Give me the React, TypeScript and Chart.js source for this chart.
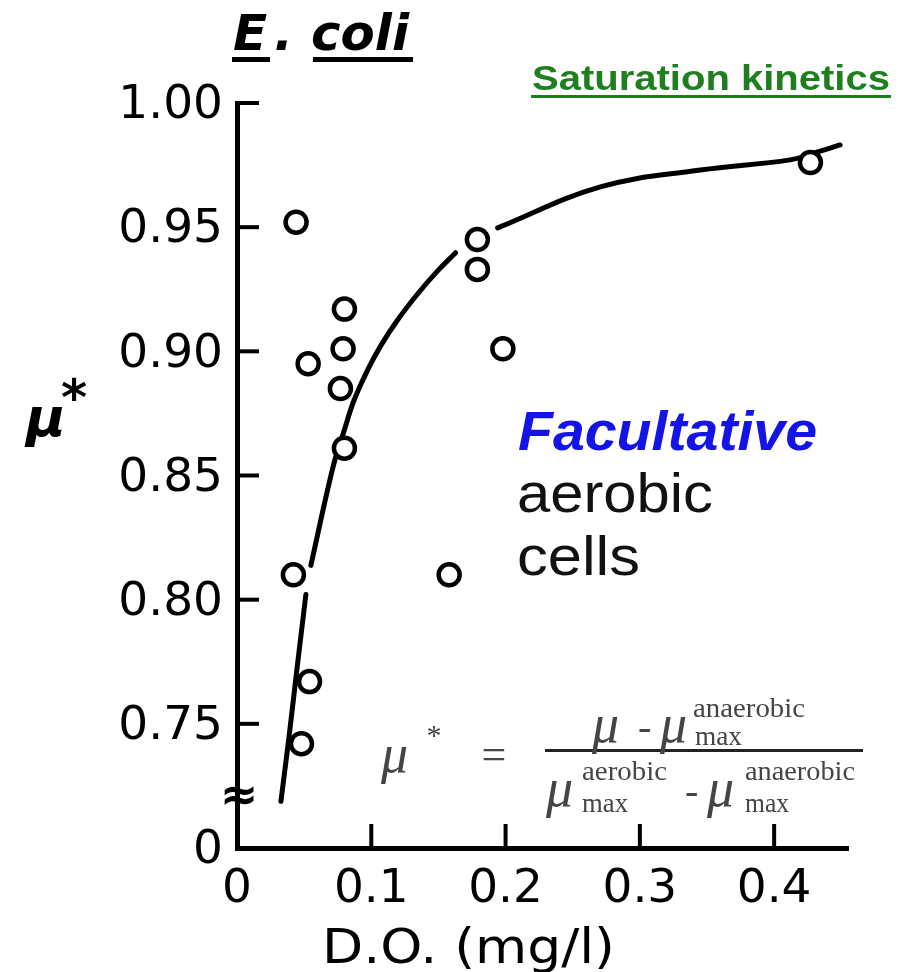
import React, { useEffect, useRef } from 'react';
import { Chart, registerables } from 'chart.js';

Chart.register(...registerables);

// ---- data ----
const doValues = [0.044, 0.053, 0.080, 0.079, 0.077, 0.080, 0.179, 0.179, 0.198, 0.158, 0.042, 0.054, 0.048, 0.427];
const muValues = [0.952, 0.895, 0.917, 0.901, 0.885, 0.861, 0.945, 0.933, 0.901, 0.810, 0.810, 0.767, 0.742, 0.976];

// fitted saturation curve (null = gap in the drawn line)
const fitDO = [0.0327, 0.0387, 0.0446, 0.0513, 0.053, 0.0550, 0.0714, 0.0796, 0.0870, 0.0974, 0.1071, 0.1197, 0.1346, 0.1494, 0.1628, 0.178, 0.1941, 0.2706, 0.3450, 0.4119, 0.4305, 0.4491];
const fitMu = [0.7188, 0.7446, 0.7719, 0.8021, null, 0.8138, 0.8532, 0.8677, 0.8801, 0.8926, 0.9023, 0.9127, 0.9232, 0.9324, 0.9397, null, 0.9497, 0.9662, 0.9730, 0.9771, 0.9800, 0.9831];

const xTickValues = [0, 0.1, 0.2, 0.3, 0.4];
const xTickLabels = ['0', '0.1', '0.2', '0.3', '0.4'];
const yTickValues = [0.70, 0.75, 0.80, 0.85, 0.90, 0.95, 1.00];
const yTickLabels = ['0', '0.75', '0.80', '0.85', '0.90', '0.95', '1.00'];

const X_MIN = 0;
const X_MAX = 0.455;
const Y_MIN = 0.70;
const Y_MAX = 1.00;
const BREAK_AT = 0.72;

function fitText(ctx: CanvasRenderingContext2D, text: string, x: number, y: number, width: number | null, font: string, color: string) {
  ctx.save();
  ctx.font = font;
  ctx.fillStyle = color;
  ctx.textAlign = 'left';
  ctx.textBaseline = 'alphabetic';
  const w = ctx.measureText(text).width;
  ctx.translate(x, y);
  if (width) ctx.scale(width / w, 1);
  ctx.fillText(text, 0, 0);
  ctx.restore();
}

const annotations = {
  id: 'annotations',
  afterDraw(chart: any) {
    const { ctx, scales, chartArea } = chart;
    const xs = scales.x;
    const ys = scales.y;
    ctx.save();
    // inward tick marks
    ctx.strokeStyle = '#000';
    ctx.lineWidth = 4;
    yTickValues.forEach((v) => {
      if (v <= Y_MIN) return;
      const py = ys.getPixelForValue(v);
      ctx.beginPath();
      ctx.moveTo(chartArea.left, py);
      ctx.lineTo(chartArea.left + 22, py);
      ctx.stroke();
    });
    xTickValues.forEach((v) => {
      if (v <= X_MIN) return;
      const px = xs.getPixelForValue(v);
      ctx.beginPath();
      ctx.moveTo(px, chartArea.bottom);
      ctx.lineTo(px, chartArea.bottom - 24);
      ctx.stroke();
    });
    // axis break mark
    const by = ys.getPixelForValue(BREAK_AT);
    ctx.font = 'bold 46px "DejaVu Sans"';
    ctx.fillStyle = '#000';
    ctx.textAlign = 'center';
    ctx.textBaseline = 'middle';
    ctx.fillText('\u2248', chartArea.left + 2, by);

    // title "E. coli"
    const tf = 'italic bold 50px "DejaVu Sans"';
    fitText(ctx, 'E', 233, 50, null, tf, '#000');
    fitText(ctx, '.', 274, 50, null, tf, '#000');
    fitText(ctx, 'coli', 311, 50, 98, tf, '#000');
    ctx.fillStyle = '#000';
    ctx.fillRect(232, 57, 38, 5);
    ctx.fillRect(313, 57, 100, 5);

    // Saturation kinetics
    fitText(ctx, 'Saturation kinetics', 532, 90, 358, 'bold 35px "Liberation Sans"', '#1f7f1f');
    ctx.fillStyle = '#1f7f1f';
    ctx.fillRect(531, 95, 360, 3);

    // y axis label mu*
    fitText(ctx, '\u03bc', 26, 436, null, 'italic bold 54px "DejaVu Sans"', '#000');
    ctx.font = 'bold 50px "DejaVu Sans"';
    ctx.fillStyle = '#000';
    ctx.textAlign = 'center';
    ctx.textBaseline = 'middle';
    ctx.fillText('*', 74, 402);

    // x axis title
    fitText(ctx, 'D.O. (mg/l)', 322, 963, 293, '48px "DejaVu Sans"', '#000');

    // annotation text
    fitText(ctx, 'Facultative', 518, 450, 299, 'italic bold 56px "Liberation Sans"', '#1414e6');
    fitText(ctx, 'aerobic', 517, 512, 196, '56px "Liberation Sans"', '#111');
    fitText(ctx, 'cells', 517, 575, 123, '56px "Liberation Sans"', '#111');

    // formula
    const g = '#454545';
    const mu = 'italic 54px "Liberation Serif"';
    const sup = '28px "Liberation Serif"';
    fitText(ctx, '\u03bc', 381, 772, null, mu, g);
    ctx.font = '30px "Liberation Serif"';
    ctx.fillStyle = g;
    ctx.textAlign = 'center';
    ctx.textBaseline = 'middle';
    ctx.fillText('*', 434, 737);
    ctx.font = '44px "Liberation Serif"';
    ctx.fillText('=', 494, 757);
    ctx.fillStyle = '#222';
    ctx.fillRect(545, 749, 318, 3);
    // numerator
    fitText(ctx, '\u03bc', 592, 742, null, mu, g);
    fitText(ctx, '-', 638, 740, null, '40px "Liberation Serif"', g);
    fitText(ctx, '\u03bc', 660, 742, null, mu, g);
    fitText(ctx, 'anaerobic', 693, 717, 112, sup, g);
    fitText(ctx, 'max', 695, 745, 47, sup, g);
    // denominator
    fitText(ctx, '\u03bc', 546, 806, null, mu, g);
    fitText(ctx, 'aerobic', 582, 780, 85, sup, g);
    fitText(ctx, 'max', 582, 812, 46, sup, g);
    fitText(ctx, '-', 685, 804, null, '40px "Liberation Serif"', g);
    fitText(ctx, '\u03bc', 707, 806, null, mu, g);
    fitText(ctx, 'anaerobic', 745, 780, 110, sup, g);
    fitText(ctx, 'max', 745, 812, 44, sup, g);
    ctx.restore();
  },
};

export default function App() {
  const ref = useRef<HTMLCanvasElement | null>(null);

  useEffect(() => {
    if (!ref.current) return;
    const points = doValues.map((x, i) => ({ x, y: muValues[i] }));
    const curve = fitDO.map((x, i) => ({ x, y: fitMu[i] }));
    const tickFont = { family: 'DejaVu Sans', size: 47 };
    const chart = new Chart(ref.current, {
      type: 'scatter',
      data: {
        datasets: [
          {
            label: 'data',
            data: points,
            order: 0,
            showLine: false,
            pointRadius: 10.5,
            pointHoverRadius: 10.5,
            pointBorderWidth: 4.5,
            pointBackgroundColor: '#fff',
            pointBorderColor: '#000',
          },
          {
            type: 'line',
            label: 'fit',
            data: curve as any,
            order: 1,
            showLine: true,
            spanGaps: false,
            borderColor: '#000',
            borderWidth: 5,
            pointRadius: 0,
            fill: false,
            tension: 0.4,
            borderCapStyle: 'round',
          },
        ],
      },
      options: {
        responsive: true,
        maintainAspectRatio: false,
        animation: false,
        layout: { padding: { left: 0, top: 103, right: 54, bottom: 0 } },
        plugins: {
          legend: { display: false },
          tooltip: { enabled: false },
          title: { display: false },
        },
        scales: {
          x: {
            type: 'linear',
            min: X_MIN,
            max: X_MAX,
            afterBuildTicks: (s: any) => {
              s.ticks = xTickValues.map((v) => ({ value: v }));
            },
            afterFit: (s: any) => {
              s.height = 124;
            },
            grid: { display: false, drawTicks: false },
            border: { display: true, color: '#000', width: 5 },
            ticks: {
              font: tickFont,
              color: '#000',
              padding: 14,
              maxRotation: 0,
              autoSkip: false,
              callback: (v: any) => {
                const i = xTickValues.findIndex((t) => Math.abs(t - Number(v)) < 1e-9);
                return i >= 0 ? xTickLabels[i] : '';
              },
            },
          },
          y: {
            type: 'linear',
            min: Y_MIN,
            max: Y_MAX,
            afterBuildTicks: (s: any) => {
              s.ticks = yTickValues.map((v) => ({ value: v }));
            },
            afterFit: (s: any) => {
              s.width = 237;
            },
            grid: { display: false, drawTicks: false },
            border: { display: true, color: '#000', width: 5 },
            ticks: {
              font: tickFont,
              color: '#000',
              padding: 14,
              labelOffset: 3,
              autoSkip: false,
              callback: (v: any) => {
                const i = yTickValues.findIndex((t) => Math.abs(t - Number(v)) < 1e-9);
                return i >= 0 ? yTickLabels[i] : '';
              },
            },
          },
        },
      },
      plugins: [annotations],
    });
    return () => chart.destroy();
  }, []);

  return (
    <div style={{ position: 'absolute', left: 0, top: 0, width: 902, height: 972, background: '#fff' }}>
      <canvas ref={ref} />
    </div>
  );
}
